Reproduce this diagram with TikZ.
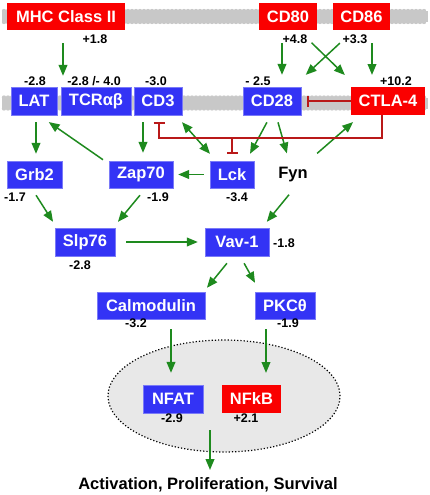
\documentclass[tikz,border=0pt]{standalone}
\usepackage{fontspec}
\setmainfont{Liberation Sans}
\usetikzlibrary{shapes,arrows,arrows.meta,shapes.geometric}

\definecolor{boxblue}{RGB}{51,51,245}
\definecolor{boxred}{RGB}{250,0,0}
\definecolor{actgreen}{RGB}{30,138,30}
\definecolor{inhred}{RGB}{185,25,25}
\definecolor{lipid}{RGB}{200,200,200}
\definecolor{nucfill}{RGB}{232,232,232}

\begin{document}
\begin{tikzpicture}[
	x=1pt, y=-1pt, >=triangle 45,
	box/.style={inner sep=0pt, minimum height=27pt, text=white, font=\fontsize{16.5}{18}\selectfont\bfseries},
	bluebox/.style={box, fill=boxblue, draw=boxblue!65!white, line width=0.6pt},
	redbox/.style={box, fill=boxred},
	val/.style={inner sep=0pt, font=\fontsize{12.5}{14}\selectfont\bfseries},
	act/.style={->, draw=actgreen, line width=1.5pt},
	inhib/.style={-{Bar[width=11pt]}, draw=inhred, line width=1.5pt}
	]
	\useasboundingbox (0,0) rectangle (430,495);

	% membranes
	\foreach \my in {16.5,103} {
		\fill[lipid] (2,\my-5.5) rectangle (428,\my+5.5);
		\foreach \mx in {4,8,...,426} {
			\fill[lipid] (\mx,\my-5.5) circle (2.2);
			\fill[lipid] (\mx,\my+5.5) circle (2.2);
		}
	}

	% nucleus
	\node [ellipse,fill=nucfill,draw,dotted,line width=1.2pt,minimum width=232pt,minimum height=112pt] (nucleus) at (224,396) {};

	% proteins
	\node [redbox,minimum width=118pt] (MHC) at (66,16.5) {MHC Class II};
	\node [redbox,minimum width=58pt] (CD80) at (288,16.5) {CD80};
	\node [redbox,minimum width=57pt] (CD86) at (361.5,16.5) {CD86};
	\node [bluebox,minimum width=46pt,minimum height=28pt] (LAT) at (34,101) {LAT};
	\node [bluebox,minimum width=70pt,minimum height=28pt] (TCR) at (96,101) {TCRαβ};
	\node [bluebox,minimum width=48pt,minimum height=28pt] (CD3) at (158,101) {CD3};
	\node [bluebox,minimum width=58pt,minimum height=28pt] (CD28) at (272,101) {CD28};
	\node [redbox,minimum width=74pt,minimum height=28pt] (CTLA) at (388,101) {CTLA-4};
	\node [bluebox,minimum width=55pt] (Grb2) at (34.5,174.5) {Grb2};
	\node [bluebox,minimum width=64pt] (Zap70) at (141,174.5) {Zap70};
	\node [bluebox,minimum width=44pt] (Lck) at (232,174.5) {Lck};
	\node [box,text=black] (Fyn) at (293,174.5) {Fyn};
	\node [bluebox,minimum width=60pt,minimum height=28pt] (Slp76) at (85,242) {Slp76};
	\node [bluebox,minimum width=64pt,minimum height=28pt] (Vav) at (237,242) {Vav-1};
	\node [bluebox,minimum width=108pt] (Calm) at (151,305.5) {Calmodulin};
	\node [bluebox,minimum width=60pt] (PKC) at (285,305.5) {PKCθ};
	\node [bluebox,minimum width=60pt,minimum height=28pt] (NFAT) at (173,399) {NFAT};
	\node [redbox,minimum width=59pt,minimum height=28pt] (NFkB) at (251.5,399) {NFkB};
	\node [inner sep=0pt,anchor=base,font=\fontsize{16.5}{18}\selectfont\bfseries] (outcome) at (208,489.5) {Activation, Proliferation, Survival};

	% fold changes
	\node [val] (vMHC) at (95,39) {+1.8};
	\node [val] (vCD80) at (295,39) {+4.8};
	\node [val] (vCD86) at (355,39) {+3.3};
	\node [val] (vLAT) at (35,81) {-2.8};
	\node [val] (vTCR) at (94,81) {-2.8 /- 4.0};
	\node [val] (vCD3) at (156,81) {-3.0};
	\node [val] (vCD28) at (258,81) {- 2.5};
	\node [val] (vCTLA) at (396,81) {+10.2};
	\node [val] (vGrb2) at (15,197) {-1.7};
	\node [val] (vZap70) at (158,197) {-1.9};
	\node [val] (vLck) at (237,197) {-3.4};
	\node [val] (vSlp76) at (80,265) {-2.8};
	\node [val] (vVav) at (284,243) {-1.8};
	\node [val] (vCalm) at (136,323) {-3.2};
	\node [val] (vPKC) at (288,323) {-1.9};
	\node [val] (vNFAT) at (172,418) {-2.9};
	\node [val] (vNFkB) at (246,418) {+2.1};

	% activation
	\draw [act,shorten <=13pt,shorten >=11pt] ([xshift=-3]MHC.south) -- ([xshift=-3]MHC.south |- TCR.north);
	\draw [act,shorten <=13pt,shorten >=12pt] ([xshift=-6]CD80.south) -- ([xshift=-6]CD80.south |- CD28.north);
	\draw [act,shorten <=18pt,shorten >=17pt] ([xshift=10.6]CD80.south) -- ([xshift=-31]CTLA.north);
	\draw [act,shorten <=19pt,shorten >=17.5pt] ([xshift=-7.7]CD86.south) -- ([xshift=21]CD28.north);
	\draw [act,shorten <=13pt,shorten >=12pt] ([xshift=10.5]CD86.south) -- ([xshift=10.5]CD86.south |- CTLA.north);
	\draw [act,shorten <=7pt,shorten >=7pt] ([xshift=2]LAT.south) -- ([xshift=2]LAT.south |- Grb2.north);
	\draw [act,shorten <=1.7pt,shorten >=12pt] ([xshift=-36.6]Zap70.north) -- ([xshift=5]LAT.south);
	\draw [act,shorten <=7pt,shorten >=8pt] ([xshift=-15]CD3.south) -- ([xshift=-15]CD3.south |- Zap70.north);
	\draw [act,<->,shorten <=9.3pt,shorten >=9.3pt] ([xshift=17.9]CD3.south) -- ([xshift=-15.9]Lck.north);
	\draw [act,shorten <=8pt,shorten >=8pt] ([xshift=-1.3]CD28.south) -- ([xshift=14.3]Lck.north);
	\draw [act,shorten <=7.3pt,shorten >=7.8pt] ([xshift=4]CD28.south) -- ([xshift=-4]Fyn.north);
	\draw [act,shorten <=11.3pt,shorten >=10.6pt] ([xshift=15.6]Fyn.north) -- ([xshift=-27]CTLA.south);
	\draw [act,shorten <=6pt,shorten >=5pt] (Lck.west) -- (Zap70.east);
	\draw [act,shorten <=8.3pt,shorten >=7.1pt] ([xshift=-2.9]Grb2.south) -- ([xshift=-28.2]Slp76.north);
	\draw [act,shorten <=9pt,shorten >=7.7pt] ([xshift=4.7]Zap70.south) -- ([xshift=28.1]Slp76.north);
	\draw [act,shorten <=11pt,shorten >=7pt] (Slp76.east) -- (Vav.west);
	\draw [act,shorten <=8.4pt,shorten >=7.7pt] ([xshift=1.3]Fyn.south) -- ([xshift=25]Vav.north);
	\draw [act,shorten <=9pt,shorten >=5.1pt] ([xshift=-4.4]Vav.south) -- ([xshift=52.8]Calm.north);
	\draw [act,shorten <=8pt,shorten >=10.3pt] ([xshift=3.2]Vav.south) -- ([xshift=-25]PKC.north);
	\draw [act,shorten <=10pt,shorten >=12pt] ([xshift=20]Calm.south) -- ([xshift=20]Calm.south |- NFAT.north);
	\draw [act,shorten <=10pt,shorten >=12pt] ([xshift=-19]PKC.south) -- ([xshift=-19]PKC.south |- NFkB.north);
	\draw [act,shorten <=17pt,shorten >=7.5pt] ([xshift=2]outcome.north |- NFAT.south) -- ([xshift=2]outcome.north);

	% inhibition
	\coordinate (junction) at (232,138);
	\draw [inhib,shorten >=6pt] (CTLA.west) -- (CD28.east);
	\draw [inhib,shorten >=7pt] ([xshift=-6]CTLA.south) |- (junction) -| ([xshift=1]CD3.south);
	\draw [inhib,shorten >=7pt] (junction) -- (junction |- Lck.north);
\end{tikzpicture}
\end{document}
